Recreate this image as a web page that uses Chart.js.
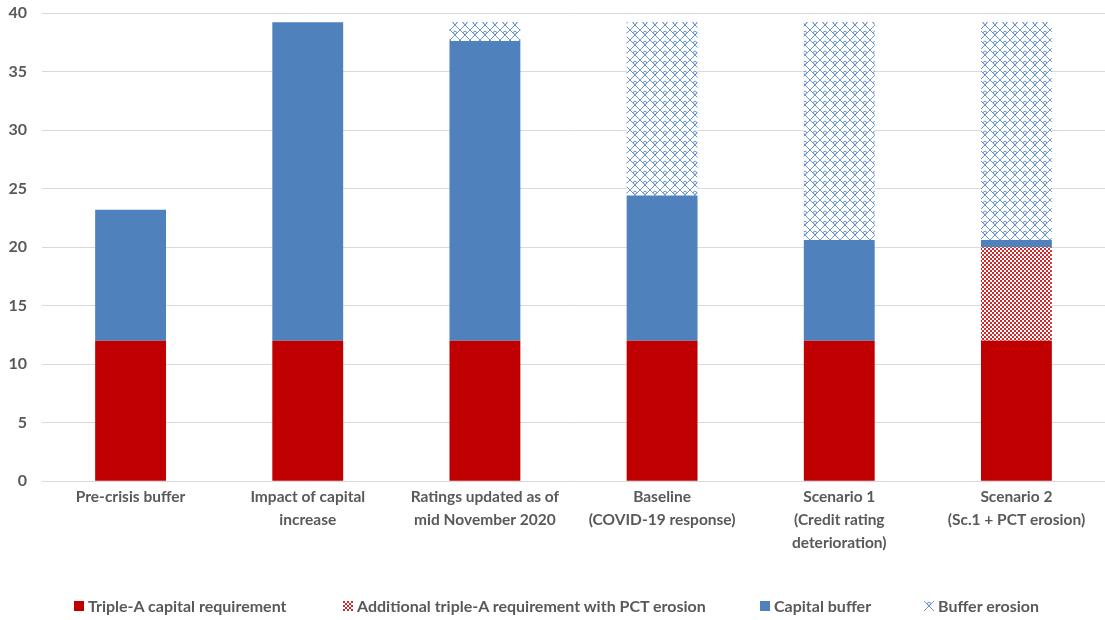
<!DOCTYPE html>
<html>
<head>
<meta charset="utf-8">
<script src="https://cdn.jsdelivr.net/npm/chart.js@4.4.1/dist/chart.umd.min.js"></script>
<style>
  html, body { margin: 0; padding: 0; background: #ffffff; }
  #wrap { position: relative; width: 1105px; height: 620px; }
  #legend { position: absolute; left: 0; top: 0; width: 1105px; height: 620px; pointer-events: none; }
  .item { position: absolute; top: 596px; display: flex; align-items: center;
          font-family: Lato, "Open Sans", sans-serif; font-weight: 700; font-size: 16px; color: #595959; white-space: nowrap; }
  .item canvas { width: 10px; height: 10px; margin-right: 4px; }
</style>
</head>
<body>
<div id="wrap">
  <canvas id="chart" width="1105" height="620"></canvas>
  <div id="legend"></div>
</div>
<script>
// Categories (multi-line axis labels)
const categories = [
  ["Pre-crisis buffer"],
  ["Impact of capital", "increase"],
  ["Ratings updated as of", "mid November 2020"],
  ["Baseline", "(COVID-19 response)"],
  ["Scenario 1", "(Credit rating", "deterioration)"],
  ["Scenario 2", "(Sc.1 + PCT erosion)"]
];

// Stacked segment values
const tripleARequirement = [12, 12, 12, 12, 12, 12];
const pctErosionRequirement = [0, 0, 0, 0, 0, 8];
const capitalBuffer = [11.2, 27.2, 25.6, 12.4, 8.6, 0.6];
const bufferErosion = [0, 0, 1.6, 14.8, 18.6, 18.6];

const seriesNames = [
  "Triple-A capital requirement",
  "Additional triple-A requirement with PCT erosion",
  "Capital buffer",
  "Buffer erosion"
];

const yTicks = [0, 5, 10, 15, 20, 25, 30, 35, 40];

const RED = "#C00000";
const CHECK_RED = "#D02828";
const BLUE = "#4F81BD";
const LATTICE_BLUE = "#6A96CB";
const GREY = "#595959";

// Fine red checkerboard fill
function checkerPattern(ctx) {
  const c = document.createElement("canvas");
  c.width = 4; c.height = 4;
  const g = c.getContext("2d");
  g.fillStyle = "#ffffff";
  g.fillRect(0, 0, 4, 4);
  g.fillStyle = CHECK_RED;
  g.fillRect(0, 0, 2, 2);
  g.fillRect(2, 2, 2, 2);
  return ctx.createPattern(c, "repeat");
}

// Blue outlined-diamond lattice fill
function latticePattern(ctx) {
  const s = 10;
  const c = document.createElement("canvas");
  c.width = s; c.height = s;
  const g = c.getContext("2d");
  g.fillStyle = "#ffffff";
  g.fillRect(0, 0, s, s);
  g.strokeStyle = LATTICE_BLUE;
  g.lineWidth = 1;
  g.beginPath();
  g.moveTo(0, 0); g.lineTo(s, s);
  g.moveTo(s, 0); g.lineTo(0, s);
  g.stroke();
  g.beginPath();
  g.arc(s / 2, s / 2 - 2.2, 1.6, 0, Math.PI * 2);
  g.stroke();
  return ctx.createPattern(c, "repeat");
}

const ctx = document.getElementById("chart").getContext("2d");
const fills = [RED, checkerPattern(ctx), BLUE, latticePattern(ctx)];

const chart = new Chart(ctx, {
  type: "bar",
  data: {
    labels: categories,
    datasets: [
      { label: seriesNames[0], data: tripleARequirement, backgroundColor: fills[0] },
      { label: seriesNames[1], data: pctErosionRequirement, backgroundColor: fills[1] },
      { label: seriesNames[2], data: capitalBuffer, backgroundColor: fills[2] },
      { label: seriesNames[3], data: bufferErosion, backgroundColor: fills[3] }
    ]
  },
  options: {
    responsive: false,
    animation: false,
    layout: { padding: { top: 13, right: 0, left: 0, bottom: 69 } },
    datasets: { bar: { barPercentage: 0.4, categoryPercentage: 1, borderWidth: 0 } },
    plugins: { legend: { display: false }, tooltip: { enabled: false } },
    scales: {
      x: {
        stacked: true,
        grid: { display: false },
        border: { display: false },
        ticks: {
          color: GREY,
          padding: -4,
          maxRotation: 0,
          autoSkip: false,
          font: { family: "Lato, 'Open Sans', sans-serif", weight: "bold", size: 15.5, lineHeight: 1.5 }
        }
      },
      y: {
        stacked: true,
        min: 0,
        max: 40,
        afterBuildTicks: (axis) => { axis.ticks = yTicks.map(v => ({ value: v })); },
        afterFit: (axis) => { axis.width = 42; axis.paddingTop = 0; },
        grid: { color: "#d9d9d9", lineWidth: 1, drawTicks: false },
        border: { display: false },
        ticks: {
          color: GREY,
          padding: 15,
          font: { family: "Lato, 'Open Sans', sans-serif", weight: "bold", size: 16 }
        }
      }
    }
  }
});

// Legend row with swatches drawn from the same fills
const legendX = [74, 343, 760, 924];
const legend = document.getElementById("legend");
seriesNames.forEach((name, i) => {
  const item = document.createElement("div");
  item.className = "item";
  item.style.left = legendX[i] + "px";
  const sw = document.createElement("canvas");
  sw.width = 10; sw.height = 10;
  const sctx = sw.getContext("2d");
  const f = [RED, checkerPattern(sctx), BLUE, latticePattern(sctx)][i];
  sctx.fillStyle = f;
  sctx.fillRect(0, 0, 10, 10);
  const span = document.createElement("span");
  span.textContent = name;
  item.appendChild(sw);
  item.appendChild(span);
  legend.appendChild(item);
});
</script>
</body>
</html>
